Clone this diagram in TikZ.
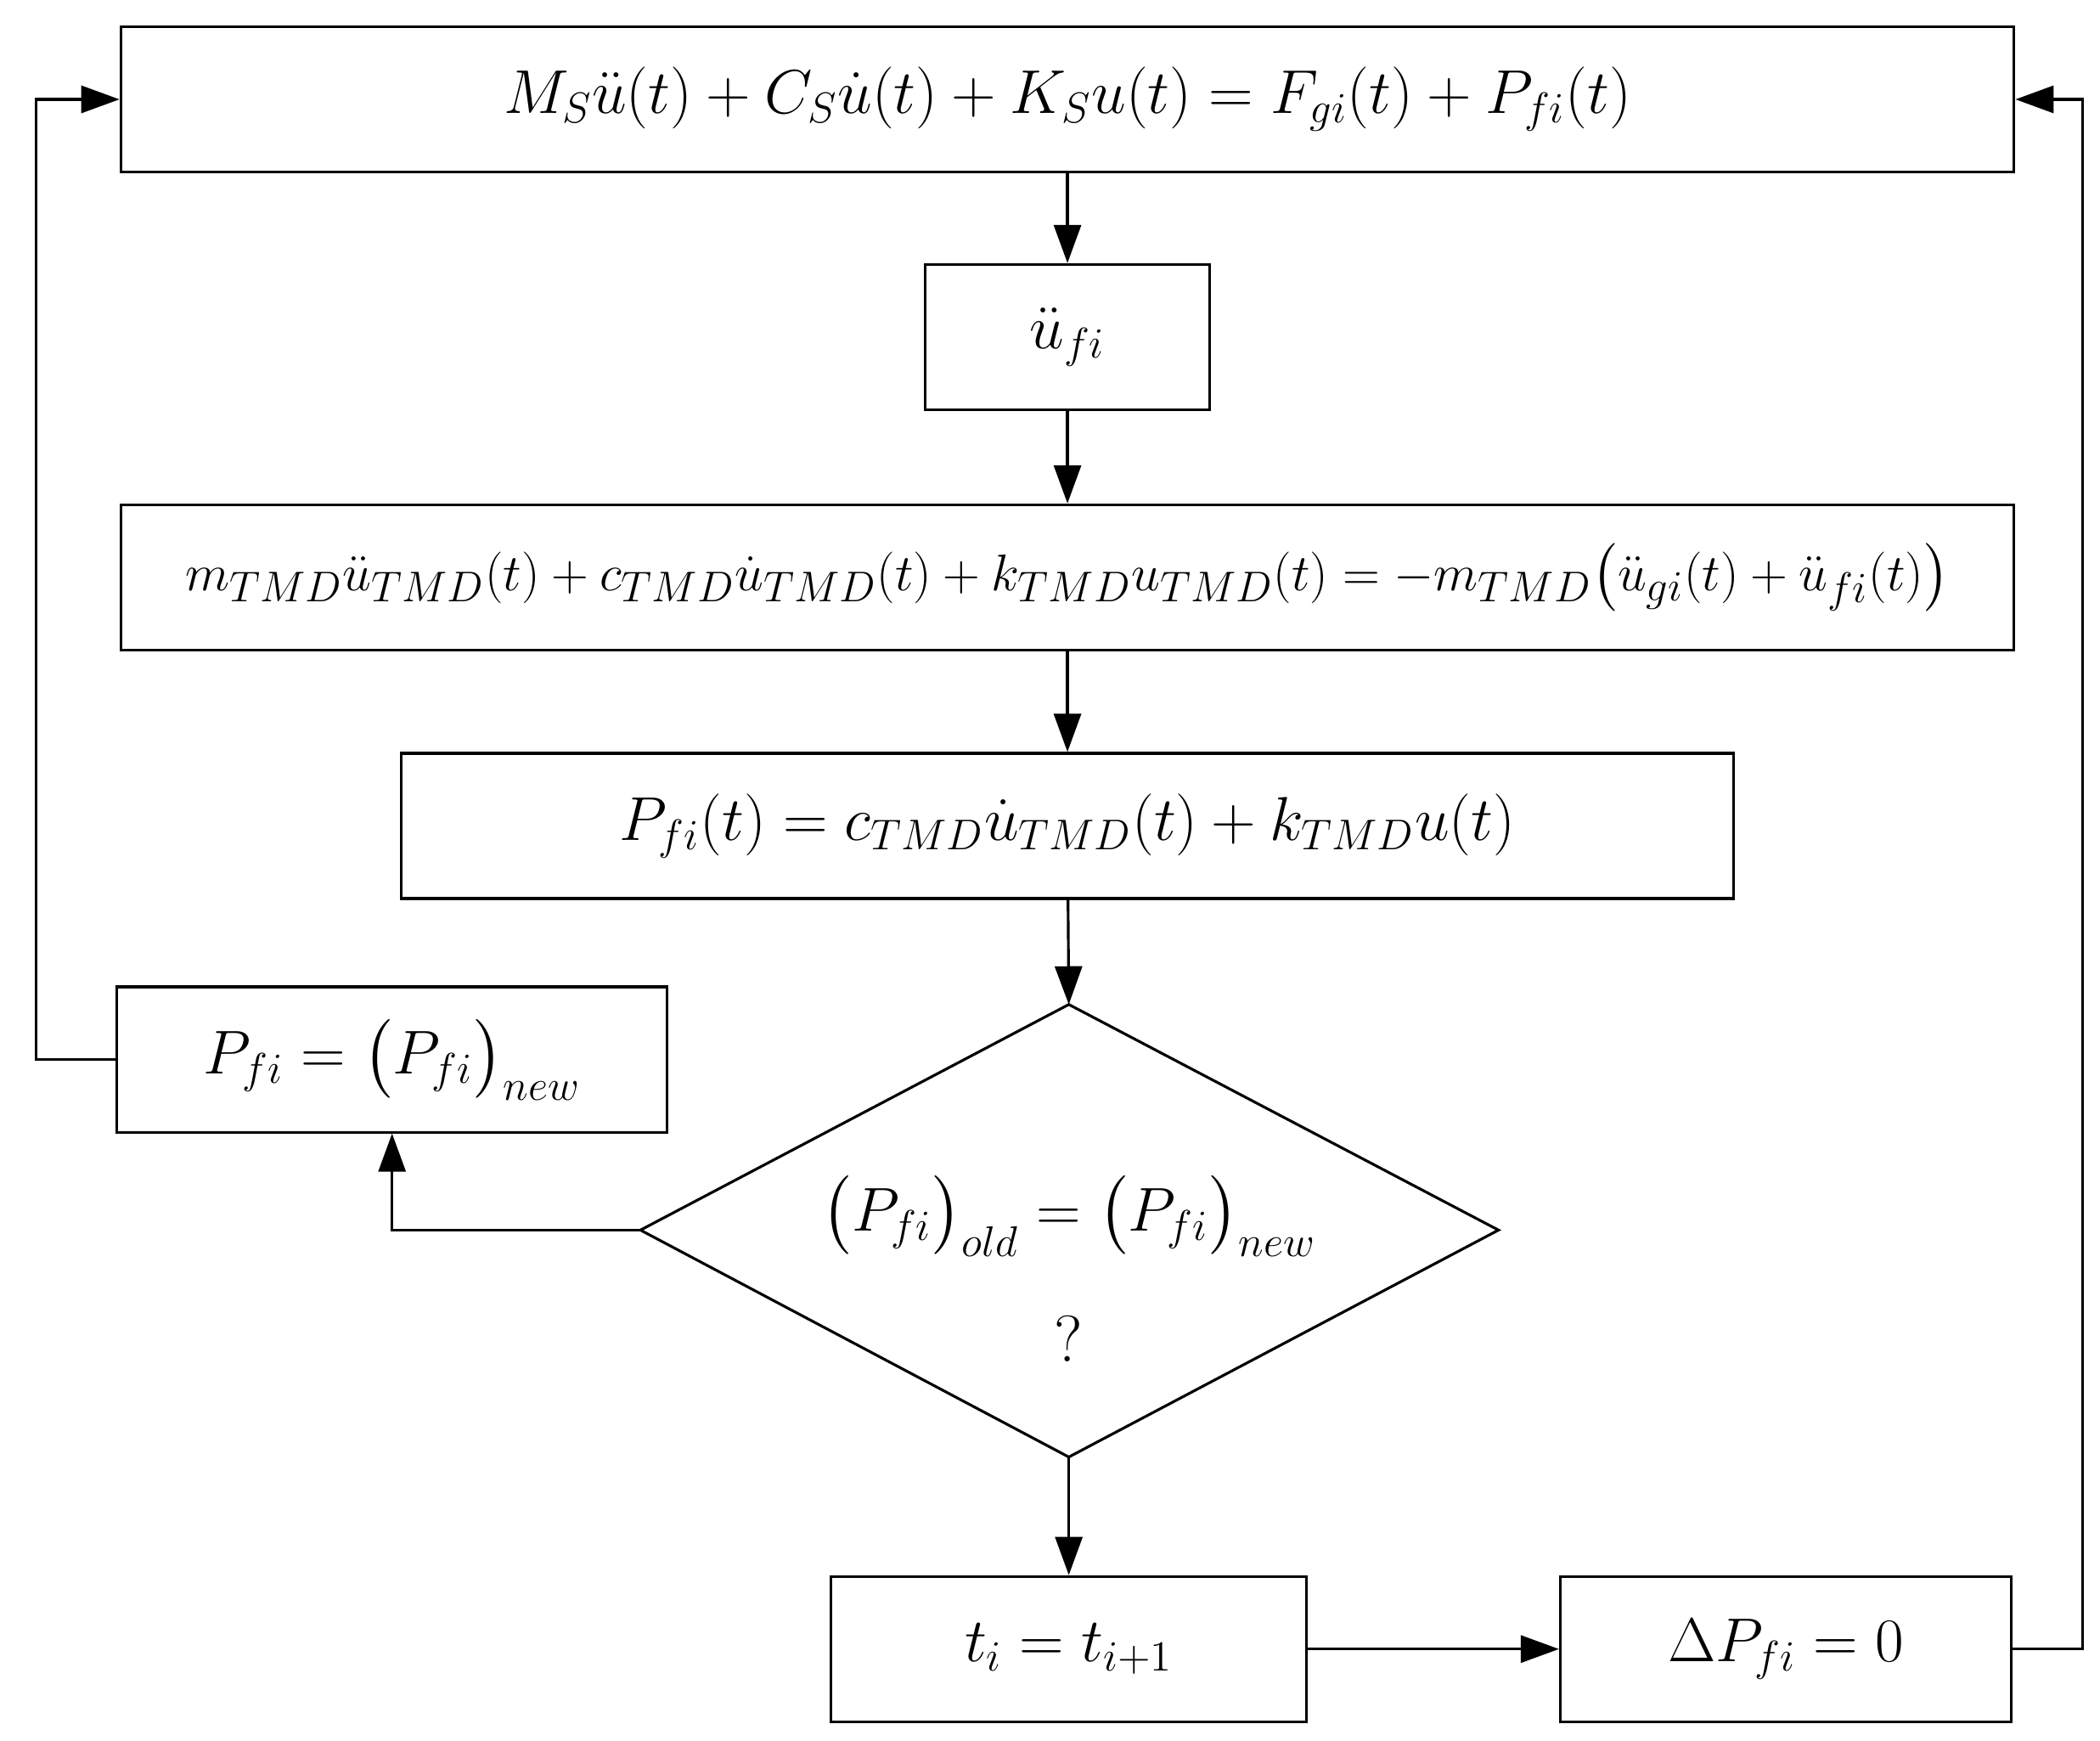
\documentclass[tikz,border=0pt]{standalone}
\usepackage{amsmath}
\usepackage{amssymb}
\usepackage{tikz}
\usetikzlibrary{positioning, arrows.meta}

\begin{document}
\begin{tikzpicture}[>={Triangle[length=0.45cm,width=0.32cm]}, x=0.01581cm, y=-0.01581cm, line width=0.9pt,
    box/.style={draw, rectangle, minimum height=1.71cm, inner sep=0pt, font=\fontsize{22}{28}\selectfont}]

        \useasboundingbox (0,0) rectangle (1564,1296);

        % Boites
        \node [box, minimum width=22.29cm] (eqS) at (795,74) {$M_S\ddot{u}(t)+C_S\dot{u}(t)+K_S u(t)=F_{gi}(t)+P_{fi}(t)$};
        \node [box, minimum width=3.35cm] (acc) at (795,251) {$\ddot{u}_{fi}$};
        \node [box, minimum width=22.29cm, font=\fontsize{19}{26}\selectfont] (eqT) at (795,430) {$m_{TMD}\ddot{u}_{TMD}(t)+c_{TMD}\dot{u}_{TMD}(t)+k_{TMD}u_{TMD}(t)=-m_{TMD}\big(\ddot{u}_{gi}(t)+\ddot{u}_{fi}(t)\big)$};
        \node [box, minimum width=15.68cm] (force) at (795,615) {$P_{fi}(t)=c_{TMD}\dot{u}_{TMD}(t)+k_{TMD}u(t)$};
        \node [box, minimum width=6.48cm] (upd) at (292,789) {$P_{fi}=\big(P_{fi}\big)_{new}$};
        \node [box, minimum width=5.60cm] (step) at (796,1228) {$t_i=t_{i+1}$};
        \node [box, minimum width=5.31cm] (reset) at (1330,1228) {$\Delta P_{fi}=0$};

        % Losange
        \coordinate (tN) at (796,748);
        \coordinate (tS) at (796,1085);
        \coordinate (tW) at (477,916);
        \coordinate (tE) at (1116,916);
        \draw (tN) -- (tE) -- (tS) -- (tW) -- cycle;
        \node [align=center, font=\fontsize{22}{44}\selectfont] (test) at (796,945) {$\big(P_{fi}\big)_{old}=\big(P_{fi}\big)_{new}$\\?};

        % Fleches verticales
        \draw [->] (eqS) -- (acc);
        \draw [->] (acc) -- (eqT);
        \draw [->] (eqT) -- (force);
        \draw [->] (force) -- (tN);
        \draw [->] (tS) -- (step);
        \draw [->] (step) -- (reset);

        % Boucles
        \draw [->] (tW) -| (upd.south);
        \draw [->] (upd.west) -- ++(-59,0) |- (eqS.west);
        \draw [->] (reset.east) -- ++(52,0) |- (eqS.east);

    \end{tikzpicture}
\end{document}
